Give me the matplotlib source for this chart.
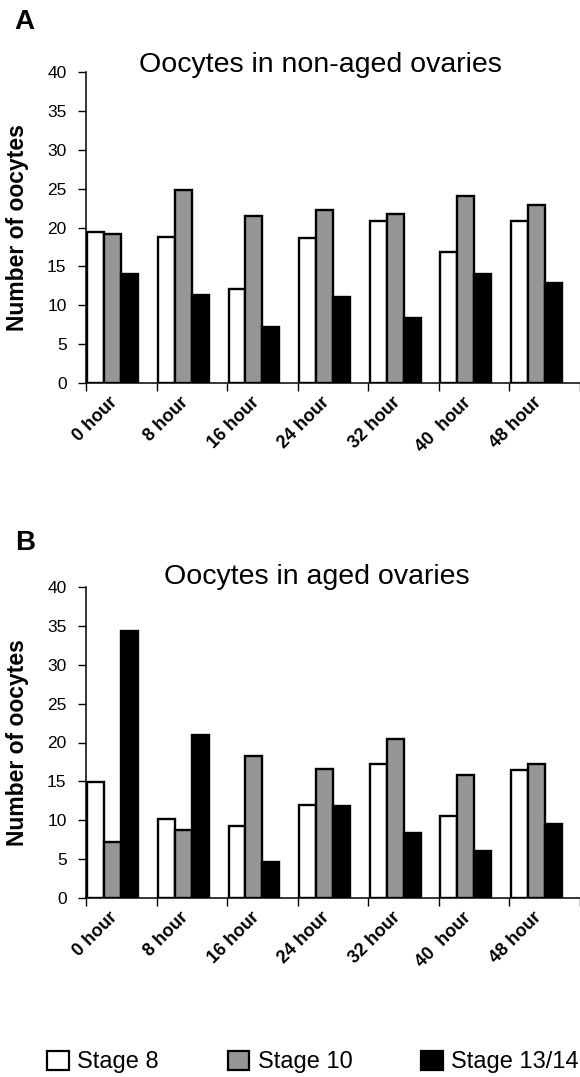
import numpy as np
import matplotlib
matplotlib.use("Agg")
import matplotlib.pyplot as plt
from matplotlib.patches import Patch

plt.rcParams['font.family'] = ['Liberation Sans', 'DejaVu Sans']

# time points
hours = ['0 hour', '8 hour', '16 hour', '24 hour', '32 hour', '40  hour', '48 hour']
stages = ['Stage 8', 'Stage 10', 'Stage 13/14']
colors = ['white', '#969696', 'black']

# panel A - non-aged ovaries
nonaged_stage8 = [19.4, 18.8, 12.1, 18.6, 20.9, 16.9, 20.9]
nonaged_stage10 = [19.2, 24.8, 21.5, 22.2, 21.8, 24.0, 22.9]
nonaged_stage13 = [14.0, 11.3, 7.2, 11.0, 8.3, 14.0, 12.9]

# panel B - aged ovaries
aged_stage8 = [14.9, 10.1, 9.3, 11.9, 17.2, 10.5, 16.4]
aged_stage10 = [7.2, 8.7, 18.2, 16.6, 20.5, 15.8, 17.2]
aged_stage13 = [34.4, 21.0, 4.6, 11.8, 8.4, 6.0, 9.5]

fig = plt.figure(figsize=(5.8, 10.77), dpi=100)
W, H = 580.0, 1077.0


def panel(top_px, values, title, title_xy, letter, letter_xy):
    ax = fig.add_axes([86 / W, 1 - (top_px + 311) / H, 494 / W, 311 / H])
    x = np.arange(len(hours))
    width = 0.24
    for k, vals in enumerate(values):
        ax.bar(x + 0.02 + k * width, vals, width, align='edge',
               color=colors[k], edgecolor='black', linewidth=1.7)
    ax.set_xlim(0, len(hours))
    ax.set_ylim(0, 40)
    ax.set_yticks(np.arange(0, 41, 5))
    ax.set_xticks(np.arange(0, len(hours) + 1))
    ax.set_xticklabels([])
    ax.set_xticks(x + 0.5, minor=True)
    ax.set_xticklabels(hours, minor=True, rotation=45, ha='right', va='top',
                       fontsize=13, fontweight='bold')
    ax.tick_params(axis='x', which='major', direction='out', length=6, width=1)
    ax.tick_params(axis='x', which='minor', length=0, pad=8)
    ax.tick_params(axis='y', direction='out', length=6, width=1, pad=8, labelsize=12.5)
    for s in ['top', 'right']:
        ax.spines[s].set_visible(False)
    for s in ['left', 'bottom']:
        ax.spines[s].set_linewidth(1.1)
    ax.set_ylabel('Number of oocytes', fontsize=16.5, fontweight='bold')
    ax.yaxis.set_label_coords(-0.116, 0.5)
    fig.text(title_xy[0] / W, 1 - title_xy[1] / H, title, fontsize=20.5,
             ha='center', va='center')
    fig.text(letter_xy[0] / W, 1 - letter_xy[1] / H, letter, fontsize=20,
             fontweight='bold', ha='center', va='center')
    return ax


panel(72, [nonaged_stage8, nonaged_stage10, nonaged_stage13],
      'Oocytes in non-aged ovaries', (320, 65), 'A', (24, 22))
panel(587, [aged_stage8, aged_stage10, aged_stage13],
      'Oocytes in aged ovaries', (317, 577), 'B', (25, 543))

handles = [Patch(facecolor=c, edgecolor='black', linewidth=1.6) for c in colors]
fig.legend(handles, stages, loc='center', bbox_to_anchor=(313 / W, 1 - 1062 / H),
           ncol=3, frameon=False, fontsize=17, handlelength=0.93, handleheight=0.9,
           handletextpad=0.35, columnspacing=2.9, borderpad=0)

fig.savefig('out.png', dpi=100)
